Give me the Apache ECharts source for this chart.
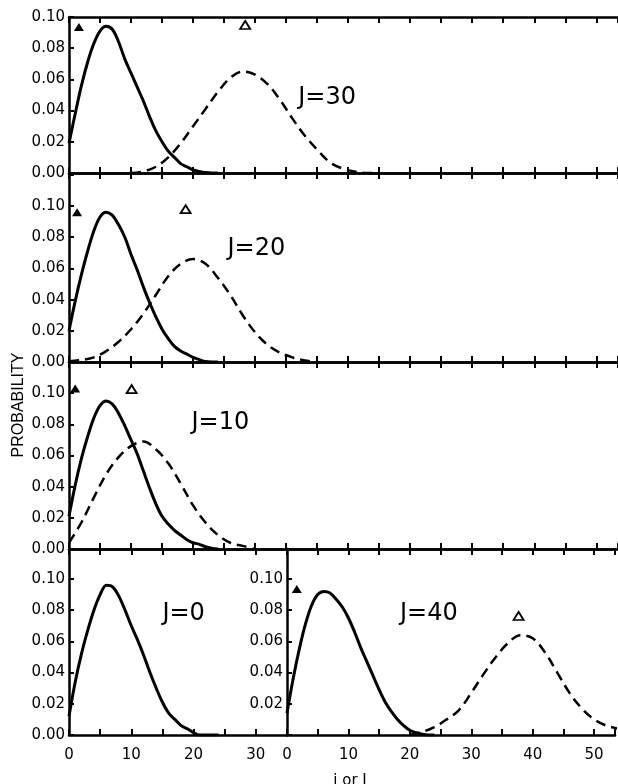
<!DOCTYPE html>
<html>
<head>
<meta charset="utf-8">
<script src="https://cdn.jsdelivr.net/npm/echarts@6/dist/echarts.min.js"></script>
<style>html,body{margin:0;padding:0;background:#fff}#c{width:618px;height:784px}</style>
</head>
<body>
<div id="c"></div>
<script>
// ---------- data ----------
const panelNames = ['J=30', 'J=20', 'J=10', 'J=0', 'J=40'];
const solidX = [0,1,2,3,4,5,6,7,8,9,10,11,12,13,14,15,16,17,18,19,20,21,22,23,24];
const j30Solid = [0.019,0.038,0.056,0.071,0.083,0.091,0.094,0.092,0.084,0.073,0.064,0.055,0.046,0.036,0.027,0.020,0.014,0.010,0.006,0.004,0.002,0.001,0.0003,0,0];
const j20Solid = [0.020,0.039,0.056,0.071,0.084,0.093,0.096,0.094,0.088,0.080,0.069,0.059,0.048,0.038,0.029,0.021,0.015,0.010,0.007,0.005,0.003,0.0015,0.0003,0,0];
const j10Solid = [0.021,0.041,0.058,0.072,0.084,0.092,0.095,0.093,0.087,0.079,0.070,0.061,0.050,0.039,0.029,0.021,0.016,0.012,0.009,0.006,0.004,0.003,0.0015,0.0005,0];
const j0Solid  = [0.012,0.034,0.052,0.067,0.080,0.090,0.096,0.095,0.089,0.080,0.070,0.061,0.051,0.040,0.030,0.021,0.014,0.010,0.006,0.004,0.0015,0,0,0,0];
const j40Solid = [0.014,0.036,0.055,0.071,0.083,0.090,0.092,0.091,0.087,0.082,0.075,0.066,0.056,0.047,0.038,0.029,0.021,0.015,0.010,0.006,0.003,0.0015,0.0005,0,0];

const j30DashX = [10,12,14,16,18,20,22,24,26,28,30,32,34,36,38,40,42,44,46,48,50];
const j30Dash  = [0,0.001,0.004,0.010,0.019,0.030,0.041,0.052,0.061,0.065,0.063,0.057,0.047,0.035,0.024,0.015,0.007,0.003,0.001,0,0];
const j20DashX = [0,2,4,6,8,10,12,14,16,18,20,22,24,26,28,30,32,34,36,38,40];
const j20Dash  = [0.0005,0.0013,0.003,0.007,0.013,0.021,0.031,0.043,0.055,0.063,0.066,0.063,0.054,0.043,0.030,0.019,0.011,0.006,0.003,0.001,0];
const j10DashX = [0,2,4,6,8,10,12,14,16,18,20,22,24,26,28,30];
const j10Dash  = [0.004,0.017,0.033,0.048,0.059,0.066,0.069,0.064,0.055,0.042,0.028,0.017,0.009,0.004,0.002,0];
const j40DashX = [20,22,24,26,28,30,32,34,36,38,40,42,44,46,48,50,52,54];
const j40Dash  = [0,0.002,0.005,0.010,0.016,0.027,0.039,0.050,0.059,0.064,0.062,0.053,0.040,0.027,0.017,0.010,0.006,0.004];

// triangle markers: panels J=30, J=20, J=10, (none for J=0), J=40
const filledX = [1.6, 1.3, 1.0, null, 1.6];
const filledY = [0.0936, 0.096, 0.103, null, 0.0936];
const openX   = [28.4, 18.8, 10.1, null, 37.7];
const openY   = [0.0949, 0.098, 0.1026, null, 0.0763];

// panel label anchors (data units)
const labelX = [41.6, 30.2, 24.4, 18.4, 23.1];
const labelY = [0.048, 0.0724, 0.081, 0.0776, 0.0776];

const yTicks = [0, 0.02, 0.04, 0.06, 0.08, 0.10];

// ---------- layout ----------
const FONT = 'DejaVu Sans';
const layouts = [
  {left:69,  top:17,  width:549, height:156, xmax:88.5, ymax:0.10,   xlabels:false, zeroLabel:true},
  {left:69,  top:173, width:549, height:189, xmax:88.5, ymax:0.1212, xlabels:false, zeroLabel:true},
  {left:69,  top:362, width:549, height:187, xmax:88.5, ymax:0.12,   xlabels:false, zeroLabel:true},
  {left:69,  top:549, width:218, height:186, xmax:35,   ymax:0.1192, xlabels:true,  zeroLabel:true},
  {left:287, top:549, width:331, height:186, xmax:53.4, ymax:0.1192, xlabels:true,  zeroLabel:false}
];
const solids = [j30Solid, j20Solid, j10Solid, j0Solid, j40Solid];
const dashes = [[j30DashX, j30Dash], [j20DashX, j20Dash], [j10DashX, j10Dash], null, [j40DashX, j40Dash]];

const pair = (xs, ys) => xs.map((x, i) => [x, ys[i]]);
const axisLine = {show:true, onZero:false, lineStyle:{color:'#000', width:2.5}};

const grid = [], xAxis = [], yAxis = [], series = [];
layouts.forEach((L, i) => {
  grid.push({left:L.left, top:L.top, width:L.width, height:L.height, containLabel:false});
  xAxis.push({
    type:'value', gridIndex:i, position:'bottom', min:0, max:L.xmax, interval:5,
    axisLine: axisLine,
    axisTick:{show:true, inside:true, length:6, lineStyle:{color:'#000', width:2}},
    axisLabel:{show:L.xlabels, margin:13, color:'#000', fontSize:15, fontFamily:FONT,
      formatter: v => (Math.abs(v % 10) < 1e-6) ? String(Math.round(v)) : ''},
    splitLine:{show:false}
  });
  xAxis.push({
    type:'value', gridIndex:i, position:'top', min:0, max:L.xmax, interval:5,
    axisLine: axisLine,
    axisTick:{show:true, inside:true, length:6, lineStyle:{color:'#000', width:2}},
    axisLabel:{show:false}, splitLine:{show:false}
  });
  yAxis.push({
    type:'value', gridIndex:i, min:0, max:L.ymax, interval:0.02,
    axisLine: axisLine,
    axisTick:{show:true, inside:true, length:5, lineStyle:{color:'#000', width:2}},
    axisLabel:{show:true, margin:4, color:'#000', fontSize:15, fontFamily:FONT,
      formatter: v => {
        const ok = yTicks.some(t => Math.abs(t - v) < 1e-6);
        if (!ok) return '';
        if (!L.zeroLabel && v < 1e-6) return '';
        return v.toFixed(2);
      }},
    splitLine:{show:false}
  });
  series.push({
    type:'line', xAxisIndex:2*i, yAxisIndex:i, data:pair(solidX, solids[i]),
    smooth:0.35, symbol:'none', lineStyle:{color:'#000', width:3}, z:3
  });
  if (dashes[i]) {
    series.push({
      type:'line', xAxisIndex:2*i, yAxisIndex:i, data:pair(dashes[i][0], dashes[i][1]),
      smooth:0.35, symbol:'none', lineStyle:{color:'#000', width:2.5, type:[10,6]}, z:3
    });
  }
  if (filledX[i] !== null) {
    series.push({
      type:'scatter', xAxisIndex:2*i, yAxisIndex:i, data:[[filledX[i], filledY[i]]],
      symbol:'triangle', symbolSize:[10,8], itemStyle:{color:'#000', opacity:1}, z:4
    });
    series.push({
      type:'scatter', xAxisIndex:2*i, yAxisIndex:i, data:[[openX[i], openY[i]]],
      symbol:'triangle', symbolSize:[10,8], itemStyle:{color:'#fff', borderColor:'#000', borderWidth:1.8, opacity:1}, z:4
    });
  }
  series.push({
    type:'scatter', xAxisIndex:2*i, yAxisIndex:i, data:[{value:[labelX[i], labelY[i]], name:panelNames[i]}],
    symbolSize:1, itemStyle:{color:'rgba(0,0,0,0)'}, silent:true,
    label:{show:true, position:'inside', formatter:'{b}', color:'#000', fontSize:24, fontFamily:FONT, opacity:1}, z:5
  });
});

const chart = echarts.init(document.getElementById('c'), null, {renderer:'canvas'});
chart.setOption({
  animation:false,
  backgroundColor:'#fff',
  grid, xAxis, yAxis, series,
  graphic:[
    {type:'text', x:19, y:405, rotation:Math.PI/2,
      style:{text:'PROBABILITY', fill:'#000', font:'16px "Liberation Sans"', align:'center', verticalAlign:'middle'}},
    {type:'text', x:350, y:774,
      style:{text:'i or I', fill:'#000', font:'15px "DejaVu Sans"', align:'center', verticalAlign:'top'}}
  ]
});
</script>
</body>
</html>
